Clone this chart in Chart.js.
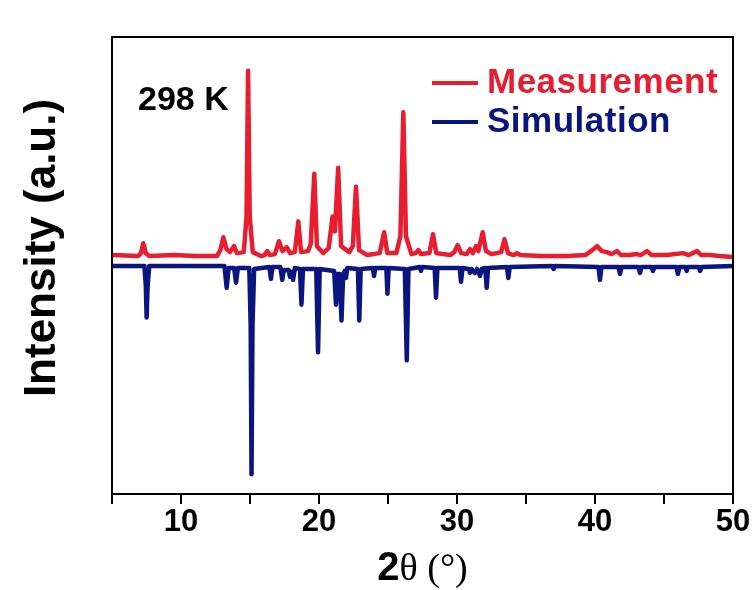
<!DOCTYPE html>
<html>
<head>
<meta charset="utf-8">
<script src="https://cdn.jsdelivr.net/npm/chart.js@4.4.1/dist/chart.umd.min.js"></script>
<style>
  html, body { margin: 0; padding: 0; background: #fff; }
  #wrap { width: 756px; height: 590px; }
</style>
</head>
<body>
<div id="wrap"><canvas id="xrdChart" width="756" height="590"></canvas></div>
<script>
// Measured pattern: [2θ (°), intensity (a.u.)], baseline at 0
const measurement = [
    [5, 1], [6.9, 0], [7.1, 3], [7.27, 13], [7.45, 3], [7.7, 0], [9.5, 1], [11, 0],
    [12.6, 0], [12.85, 6], [13.07, 19], [13.3, 7], [13.55, 4], [13.84, 10], [14.05, 3],
    [14.55, 4], [14.75, 40], [14.86, 187], [14.98, 40], [15.2, 4], [15.8, 0],
    [16.05, 1], [16.25, 5], [16.45, 1], [16.8, 2], [17.1, 15], [17.35, 5], [17.66, 9],
    [17.9, 3], [18.25, 4], [18.5, 35], [18.7, 4], [19.2, 5], [19.4, 12], [19.66, 83],
    [19.85, 10], [20.3, 3], [20.7, 8], [20.98, 40], [21.15, 25], [21.39, 89], [21.6, 10],
    [22.2, 4], [22.45, 10], [22.68, 70], [22.9, 6], [23.5, 1], [24.4, 3], [24.72, 24],
    [24.95, 3], [25.6, 3], [25.9, 20], [26.11, 145], [26.3, 20], [26.7, 2], [27.0, 3],
    [27.2, 6], [27.4, 2], [28.0, 3], [28.26, 22], [28.5, 3], [29.5, 1], [29.8, 4],
    [30.05, 11], [30.3, 3], [30.7, 2], [30.94, 7], [31.15, 3], [31.38, 10], [31.55, 5],
    [31.86, 24], [32.1, 5], [32.5, 2], [33.2, 4], [33.44, 17], [33.7, 3], [34.1, 1],
    [34.35, 3], [34.6, 1], [36, 0], [38, 0], [39.3, 1], [39.8, 6], [40.15, 10],
    [40.5, 5], [40.87, 4], [41.2, 2], [41.59, 5], [41.9, 1], [42.5, 1], [43.04, 2],
    [43.3, 1], [43.77, 5], [44.1, 1], [45.22, 1], [46.38, 3], [46.8, 1], [47.39, 5],
    [47.7, 1], [48.33, 1], [49, 0], [50, -1]
];

// Simulated pattern: [2θ (°), intensity (a.u.)], drawn downwards
const simulation = [
    [5, 0], [7.35, 0], [7.45, 20], [7.51, 52], [7.58, 20], [7.7, 0], [13.15, 0],
    [13.31, 22], [13.45, 2], [13.85, 2], [13.99, 17], [14.12, 2], [14.95, 2], [15.05, 60],
    [15.11, 210], [15.18, 60], [15.3, 3], [16.4, 1], [16.52, 13], [16.62, 1], [17.2, 1],
    [17.34, 14], [17.45, 4], [17.8, 4], [17.9, 11], [18.0, 6], [18.12, 14], [18.25, 2],
    [18.62, 3], [18.73, 39], [18.84, 3], [19.8, 3], [19.93, 87], [20.05, 3], [21.1, 5],
    [21.23, 39], [21.33, 8], [21.5, 8], [21.63, 55], [21.75, 8], [21.88, 5], [21.96, 12],
    [22.05, 2], [22.82, 3], [22.92, 55], [23.02, 3], [23.9, 2], [23.99, 10], [24.08, 2],
    [24.88, 2], [24.96, 28], [25.05, 2], [26.22, 3], [26.36, 95], [26.48, 3], [27.3, 1],
    [27.39, 5], [27.48, 1], [28.38, 2], [28.48, 32], [28.58, 2], [30.2, 2], [30.29, 16],
    [30.4, 2], [30.85, 3], [30.94, 7], [31.05, 3], [31.3, 7], [31.45, 3], [31.67, 10],
    [31.8, 3], [32.05, 2], [32.15, 22], [32.25, 2], [33.62, 1], [33.72, 12], [33.82, 1],
    [36.9, 0], [37.0, 3], [37.1, 0], [40.25, 1], [40.36, 14], [40.47, 1], [41.7, 1],
    [41.81, 8], [41.92, 1], [43.15, 1], [43.26, 7], [43.37, 1], [44.1, 1], [44.2, 5],
    [44.3, 1], [45.9, 1], [46.01, 8], [46.12, 1], [46.55, 1], [46.64, 5], [46.73, 1],
    [47.52, 1], [47.62, 5], [47.72, 1], [50, 0]
];

const seriesLabels = ['Measurement', 'Simulation'];
const seriesColors = ['#e81d30', '#0b1580'];
const xTicks = [10, 20, 30, 40, 50];
const sampleLabel = '298 K';
const xTitle = ['2', 'θ (°)'];
const yTitle = 'Intensity (a.u.)';
const simOffset = -10;   // simulation baseline sits just below the measurement

// Textos e moldura desenhados por cima do gráfico
const decoracao = {
    id: 'decoracao',
    afterDraw(chart) {
        const ctx = chart.ctx;
        const a = chart.chartArea;
        ctx.save();

        // moldura (esquerda, topo, direita)
        ctx.strokeStyle = '#000';
        ctx.lineWidth = 2;
        ctx.beginPath();
        ctx.moveTo(a.left, a.bottom);
        ctx.lineTo(a.left, a.top);
        ctx.lineTo(a.right, a.top);
        ctx.lineTo(a.right, a.bottom);
        ctx.stroke();

        // rótulo da amostra
        ctx.fillStyle = '#000';
        ctx.font = 'bold 34px "Liberation Sans", Arial, sans-serif';
        ctx.textAlign = 'left';
        ctx.textBaseline = 'alphabetic';
        ctx.fillText(sampleLabel, 138, 110);

        // legenda
        ctx.letterSpacing = '0.5px';
        chart.data.datasets.forEach((ds, i) => {
            const y = 83 + i * 39;
            ctx.strokeStyle = ds.borderColor;
            ctx.lineWidth = 4;
            ctx.beginPath();
            ctx.moveTo(432, y);
            ctx.lineTo(478, y);
            ctx.stroke();
            ctx.fillStyle = ds.borderColor;
            ctx.font = 'bold 35px "Liberation Sans", Arial, sans-serif';
            ctx.fillText(ds.label, 487, y + 10);
        });
        ctx.letterSpacing = '0px';

        // título do eixo y
        ctx.save();
        ctx.translate(43, 248);
        ctx.rotate(-Math.PI / 2);
        ctx.fillStyle = '#000';
        ctx.font = 'bold 44px "Liberation Sans", Arial, sans-serif';
        ctx.textAlign = 'center';
        ctx.textBaseline = 'middle';
        ctx.fillText(yTitle, 0, 0);
        ctx.restore();

        // título do eixo x: "2" em negrito, θ (°) em serifa
        const fontA = 'bold 40px "Liberation Sans Narrow", "Liberation Sans", Arial, sans-serif';
        const fontB = '38px "Liberation Serif", "Times New Roman", serif';
        ctx.font = fontA;
        const wA = ctx.measureText(xTitle[0]).width;
        ctx.font = fontB;
        const wB = ctx.measureText(xTitle[1]).width;
        let x = (a.left + a.right) / 2 - (wA + wB) / 2;
        ctx.fillStyle = '#000';
        ctx.textAlign = 'left';
        ctx.textBaseline = 'alphabetic';
        ctx.font = fontA;
        ctx.fillText(xTitle[0], x, 580);
        ctx.font = fontB;
        ctx.fillText(xTitle[1], x + wA, 580);

        ctx.restore();
    }
};

const ctx = document.getElementById('xrdChart');
new Chart(ctx, {
    type: 'line',
    data: {
        datasets: [
            {
                label: seriesLabels[0],
                data: measurement.map(p => ({ x: p[0], y: p[1] })),
                borderColor: seriesColors[0],
                borderWidth: 4.5,
                pointRadius: 0,
                tension: 0,
                borderJoinStyle: 'round',
                borderCapStyle: 'round'
            },
            {
                label: seriesLabels[1],
                data: simulation.map(p => ({ x: p[0], y: simOffset - p[1] })),
                borderColor: seriesColors[1],
                borderWidth: 4.5,
                pointRadius: 0,
                tension: 0,
                borderJoinStyle: 'round',
                borderCapStyle: 'round'
            }
        ]
    },
    options: {
        responsive: false,
        devicePixelRatio: 1,
        animation: false,
        layout: {
            padding: { left: 112, right: 23, top: 37, bottom: 49 }
        },
        plugins: {
            legend: { display: false },
            tooltip: { enabled: false }
        },
        scales: {
            x: {
                type: 'linear',
                min: 5,
                max: 50,
                grid: {
                    drawOnChartArea: false,
                    drawTicks: true,
                    tickLength: 10,
                    color: '#000',
                    lineWidth: 2
                },
                border: { display: true, color: '#000', width: 2 },
                ticks: {
                    stepSize: 5,
                    autoSkip: false,
                    maxRotation: 0,
                    padding: 3,
                    color: '#000',
                    font: { family: '"Liberation Sans Narrow", "Liberation Sans", Arial', size: 31, weight: 'bold', lineHeight: 1 },
                    callback: function(value) {
                        return xTicks.includes(value) ? String(value) : '';
                    }
                }
            },
            y: {
                display: false,
                min: -240,
                max: 221
            }
        }
    },
    plugins: [decoracao]
});
</script>
</body>
</html>
